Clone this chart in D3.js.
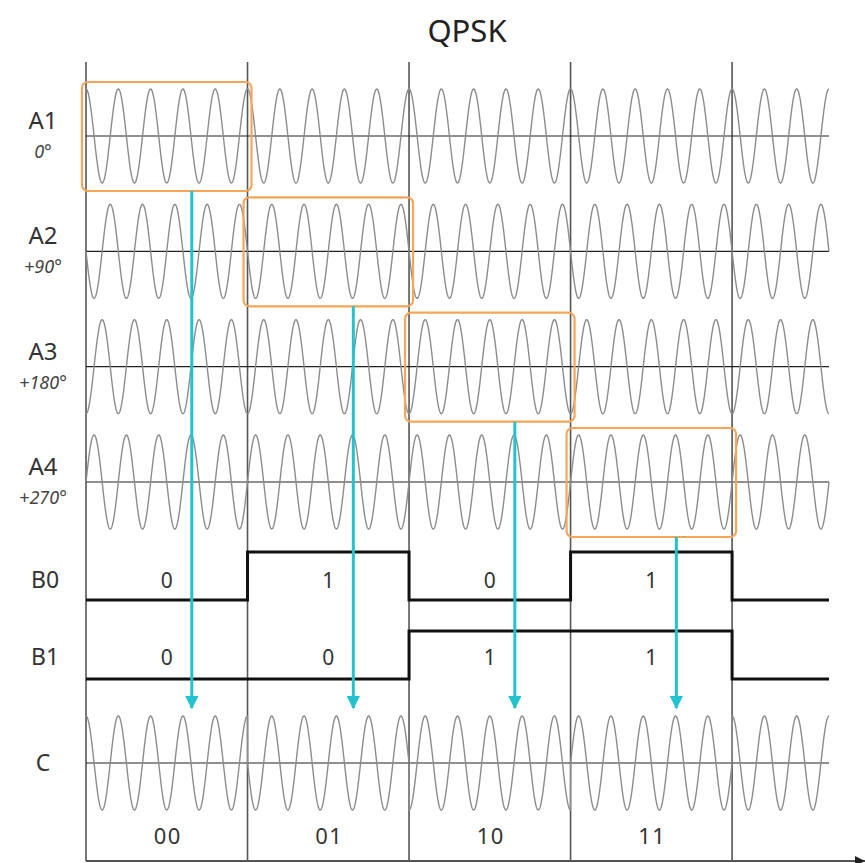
<!DOCTYPE html>
<html>
<head>
<meta charset="utf-8">
<script src="https://cdn.jsdelivr.net/npm/d3@7"></script>
<style>
  html, body { margin: 0; padding: 0; background: #fff; }
  svg { display: block; }
  text { font-family: "Noto Sans", "Liberation Sans", sans-serif; fill: #333; }
</style>
</head>
<body>
<svg id="chart" width="865" height="863"></svg>
<script>
// ---------- data ----------
const title = "QPSK";
const carrierLabels = ["A1", "A2", "A3", "A4"];
const phaseLabels = ["0°", "+90°", "+180°", "+270°"];
const carrierPhases = [0, 90, 180, 270];
const bitRowLabels = ["B0", "B1"];
const bitsB0 = [0, 1, 0, 1, 0];
const bitsB1 = [0, 0, 1, 1, 0];
const symbolLabels = ["00", "01", "10", "11"];
const outputLabel = "C";
const cyclesPerSymbol = 5;
const symbolBoundaries = [0, 1, 2, 3, 4];
const timeSpan = [0, 4.6];

// ---------- layout ----------
const svg = d3.select("#chart");
const x = d3.scaleLinear().domain(timeSpan).range([86, 829]);
const rowCenter = d3.scaleLinear().domain([0, 3]).range([136, 482]);
const cCenter = 763;
const amp = 47;
const bitRows = [
  { hi: 552, lo: 600, label: 580 },
  { hi: 631, lo: 679, label: 657 }
];
const waveColor = "#8c8c8c";
const boxColor = "#f5a65b";
const arrowColor = "#22c3cf";

function wavePath(cy, phaseAt) {
  const pts = [];
  const [t0, t1] = timeSpan;
  const n = 3000;
  for (let i = 0; i <= n; i++) {
    const t = t0 + (t1 - t0) * i / n;
    const ph = phaseAt(t) * Math.PI / 180;
    pts.push([t, Math.cos(2 * Math.PI * cyclesPerSymbol * t + ph)]);
  }
  const y = d3.scaleLinear().domain([-1, 1]).range([cy + amp, cy - amp]);
  return d3.line().x(d => x(d[0])).y(d => y(d[1]))(pts);
}

// title
svg.append("text").attr("x", 467).attr("y", 42)
  .attr("text-anchor", "middle").attr("font-size", 31).style("fill", "#222")
  .text(title);

// vertical symbol boundaries
svg.selectAll("line.vb").data(symbolBoundaries).enter().append("line")
  .attr("x1", d => x(d)).attr("x2", d => x(d))
  .attr("y1", 62).attr("y2", 861)
  .attr("stroke", "#555").attr("stroke-width", 1.6);

// carrier rows
carrierPhases.forEach((p, i) => {
  const cy = rowCenter(i);
  svg.append("line").attr("x1", x(timeSpan[0])).attr("x2", x(timeSpan[1]))
    .attr("y1", cy).attr("y2", cy).attr("stroke", "#222").attr("stroke-width", 1.2);
  svg.append("path").attr("d", wavePath(cy, () => p))
    .attr("fill", "none").attr("stroke", waveColor).attr("stroke-width", 1.4);
  svg.append("text").attr("x", 43).attr("y", cy - 7)
    .attr("text-anchor", "middle").attr("font-size", 24).text(carrierLabels[i]);
  svg.append("text").attr("x", 43).attr("y", cy + 22)
    .attr("text-anchor", "middle").attr("font-size", 18)
    .attr("font-style", "italic").style("fill", "#444").text(phaseLabels[i]);
});

// bit rows
[bitsB0, bitsB1].forEach((bits, r) => {
  const row = bitRows[r];
  const yb = b => (b ? row.hi : row.lo);
  const pts = [];
  bits.forEach((b, k) => {
    const t0 = k, t1 = Math.min(k + 1, timeSpan[1]);
    pts.push([x(t0), yb(b)], [x(t1), yb(b)]);
  });
  svg.append("path").attr("d", d3.line()(pts))
    .attr("fill", "none").attr("stroke", "#111").attr("stroke-width", 3);
  svg.append("text").attr("x", 45).attr("y", row.label + 8)
    .attr("text-anchor", "middle").attr("font-size", 23).text(bitRowLabels[r]);
  bits.slice(0, 4).forEach((b, k) => {
    svg.append("text").attr("x", x(k + 0.5)).attr("y", row.label + 8)
      .attr("text-anchor", "middle").attr("font-size", 21).text(String(b));
  });
});

// output row C
const symbolPhase = t => {
  const k = Math.min(Math.floor(t), bitsB0.length - 1);
  return carrierPhases[bitsB1[k] * 2 + bitsB0[k]];
};
svg.append("line").attr("x1", x(timeSpan[0])).attr("x2", x(timeSpan[1]))
  .attr("y1", cCenter).attr("y2", cCenter).attr("stroke", "#222").attr("stroke-width", 1.2);
svg.append("path").attr("d", wavePath(cCenter, symbolPhase))
  .attr("fill", "none").attr("stroke", waveColor).attr("stroke-width", 1.4);
svg.append("text").attr("x", 43).attr("y", cCenter + 8)
  .attr("text-anchor", "middle").attr("font-size", 23).text(outputLabel);
svg.selectAll("text.sym").data(symbolLabels).enter().append("text")
  .attr("x", (d, k) => x(k + 0.5) + 1).attr("y", 844)
  .attr("text-anchor", "middle").attr("font-size", 22)
  .attr("letter-spacing", 1.5).text(d => d);

// selection boxes + arrows
const defs = svg.append("defs");
defs.append("marker").attr("id", "ah").attr("viewBox", "0 0 10 10")
  .attr("refX", 9).attr("refY", 5).attr("markerWidth", 4.4).attr("markerHeight", 4.4)
  .attr("markerUnits", "strokeWidth").attr("orient", "auto")
  .append("path").attr("d", "M0,0 L10,5 L0,10 Z").attr("fill", arrowColor);

symbolLabels.forEach((s, k) => {
  const idx = bitsB1[k] * 2 + bitsB0[k];
  const cy = rowCenter(idx);
  svg.append("rect")
    .attr("x", x(k) - 4).attr("y", cy - 54)
    .attr("width", x(k + 1) - x(k) + 8).attr("height", 109)
    .attr("rx", 6).attr("ry", 6)
    .attr("fill", "none").attr("stroke", boxColor).attr("stroke-width", 2.2);
  const ax = x(k + 0.655);
  svg.append("line").attr("x1", ax).attr("x2", ax)
    .attr("y1", cy + 55).attr("y2", 708)
    .attr("stroke", arrowColor).attr("stroke-width", 3)
    .attr("marker-end", "url(#ah)");
});

// bottom time axis
defs.append("marker").attr("id", "ax").attr("viewBox", "0 0 10 10")
  .attr("refX", 10).attr("refY", 5).attr("markerWidth", 5).attr("markerHeight", 5)
  .attr("markerUnits", "strokeWidth").attr("orient", "auto")
  .append("path").attr("d", "M0,0 L10,5 L0,10 Z").attr("fill", "#222");
svg.append("line").attr("x1", x(0)).attr("x2", 865)
  .attr("y1", 861).attr("y2", 861)
  .attr("stroke", "#555").attr("stroke-width", 2)
  .attr("marker-end", "url(#ax)");
</script>
</body>
</html>
